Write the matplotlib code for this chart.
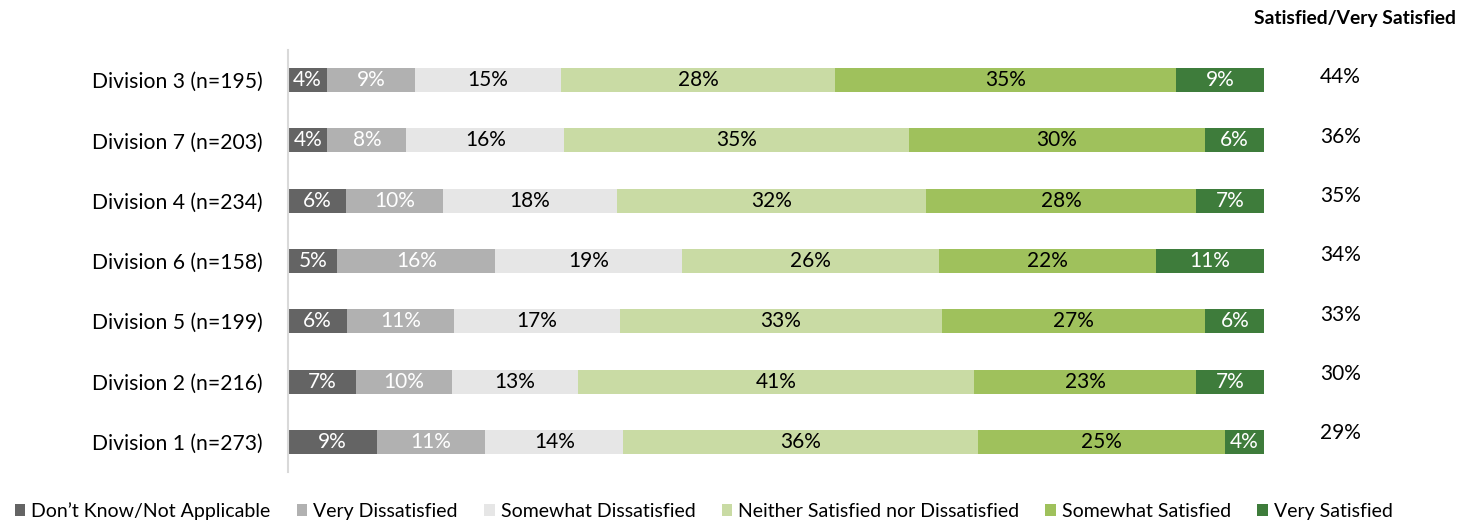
import numpy as np
import matplotlib

matplotlib.use('Agg')
import matplotlib.pyplot as plt
from matplotlib.patches import Patch

plt.rcParams['font.family'] = ['Lato', 'DejaVu Sans']

divisions = ['Division 3 (n=195)', 'Division 7 (n=203)', 'Division 4 (n=234)',
             'Division 6 (n=158)', 'Division 5 (n=199)', 'Division 2 (n=216)',
             'Division 1 (n=273)']
categories = ['Don\u2019t Know/Not Applicable', 'Very Dissatisfied', 'Somewhat Dissatisfied',
              'Neither Satisfied nor Dissatisfied', 'Somewhat Satisfied', 'Very Satisfied']

dont_know = [4, 4, 6, 5, 6, 7, 9]
very_dis = [9, 8, 10, 16, 11, 10, 11]
some_dis = [15, 16, 18, 19, 17, 13, 14]
neither = [28, 35, 32, 26, 33, 41, 36]
some_sat = [35, 30, 28, 22, 27, 23, 25]
very_sat = [9, 6, 7, 11, 6, 7, 4]
sat_total = [44, 36, 35, 34, 33, 30, 29]

colors = ['#646464', '#b1b1b1', '#e6e6e6', '#c9dba4', '#9fc15c', '#3e7c3b']
text_colors = ['white', 'white', 'black', 'black', 'black', 'white']

values = np.array([dont_know, very_dis, some_dis, neither, some_sat, very_sat], dtype=float)
shares = values / values.sum(axis=0)

fig = plt.figure(figsize=(14.63, 5.22), dpi=100)
ax = fig.add_axes([0.1969, 0.0958, 0.6671, 0.8084])

y = np.arange(len(divisions))
left = np.zeros(len(divisions))
for k in range(len(categories)):
    ax.barh(y, shares[k], left=left, height=0.4, color=colors[k], edgecolor='none')
    for i in range(len(divisions)):
        ax.text(left[i] + shares[k][i] / 2, y[i], f'{int(values[k][i])}%',
                ha='center', va='center', fontsize=15, color=text_colors[k])
    left += shares[k]

ax.set_xlim(0, 1)
ax.set_ylim(-0.5, len(divisions) - 0.5)
ax.invert_yaxis()
ax.set_yticks(y)
ax.set_yticklabels(divisions, fontsize=15.2)
ax.tick_params(axis='y', length=0, pad=18)
ax.set_xticks([])
for s in ['top', 'right', 'bottom']:
    ax.spines[s].set_visible(False)
ax.spines['left'].set_color('#d9d9d9')
ax.spines['left'].set_linewidth(1.5)

# satisfied / very satisfied column
for i, v in enumerate(sat_total):
    ax.text(1.078, y[i] * 0.985 - 0.05, f'{v}%', ha='center', va='center',
            fontsize=15, clip_on=False)
fig.text(0.995, 0.965, 'Satisfied/Very Satisfied', ha='right', va='center',
         fontsize=13.9, fontweight='bold')

handles = [Patch(facecolor=c, edgecolor='none') for c in colors]
fig.legend(handles, categories, loc='lower center', bbox_to_anchor=(0.481, -0.03),
           ncol=6, frameon=False, fontsize=14, handlelength=0.55, handleheight=0.55,
           handletextpad=0.3, columnspacing=1.35)

fig.savefig('out.png', dpi=100)
